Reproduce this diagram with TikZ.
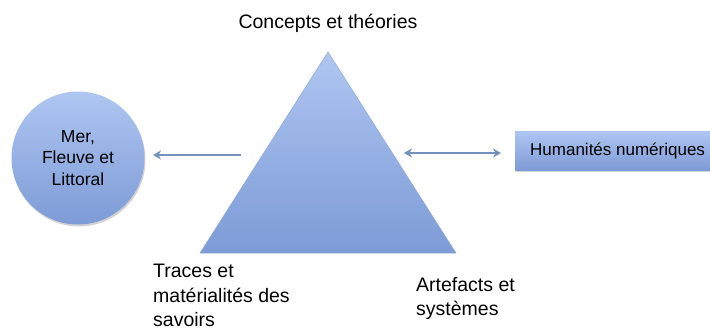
\documentclass[tikz,border=0pt]{standalone}
\usepackage{fontspec}
\setmainfont{Liberation Sans}
\usetikzlibrary{shadows,arrows.meta}
\begin{document}
\begin{tikzpicture}[x=1pt,y=-1pt,
  shape3d/.style={draw=none, top color=blue3dtop, bottom color=blue3dbot},
  conn/.style={draw=arrowblue, line width=1.8pt, >={Stealth[length=8pt,width=9pt,inset=2.5pt]}},
  lbl/.style={font=\fontsize{19.5}{24.5}\selectfont, align=left, inner sep=0pt}]
\definecolor{blue3dtop}{HTML}{AFC6F2}
\definecolor{blue3dbot}{HTML}{7D9BD6}
\definecolor{arrowblue}{HTML}{7391BC}
\useasboundingbox (0,0) rectangle (710,327);
\clip (0,0) rectangle (710,327);
% triangle
\path[top color=blue3dtop, bottom color=blue3dbot, draw=blue3dbot!80!black!40!blue3dtop, line width=0.5pt]
  (328,52) coordinate (apex) -- (200,253) coordinate (bl) -- (456,253) coordinate (br) -- cycle;
\coordinate (triL) at (241,155);
\coordinate (triR) at (404,153);
% circle
\node[circle, minimum size=133pt, shape3d, drop shadow={opacity=0.35, shadow xshift=1pt, shadow yshift=-2pt},
  font=\fontsize{17.5}{21.5}\selectfont, align=center] (mer) at (78,158) {Mer,\\Fleuve et\\Littoral};
\coordinate (merR) at (153,155);
% rectangle
\node[rectangle, minimum width=200pt, minimum height=39pt, shape3d, anchor=west,
  drop shadow={opacity=0.35, shadow xshift=1pt, shadow yshift=-2pt}] (hn) at (515,150.5) {};
\coordinate (hnL) at (501,153);
\node[font=\fontsize{17}{20}\selectfont, anchor=west, inner sep=0pt] (hnt) at (530,151) {Humanités numériques};
% arrows
\draw[conn, ->] (triL) -- (merR);
\draw[conn, <->] (triR) -- (hnL);
% labels
\node[lbl, anchor=base] (ct) at (328,28) {Concepts et théories};
\node[lbl, anchor=north west] (tr) at (153,264) {Traces et\\matérialités des\\savoirs};
\node[lbl, anchor=north west] (as) at (416,277) {Artefacts et\\systèmes};
\end{tikzpicture}
\end{document}
